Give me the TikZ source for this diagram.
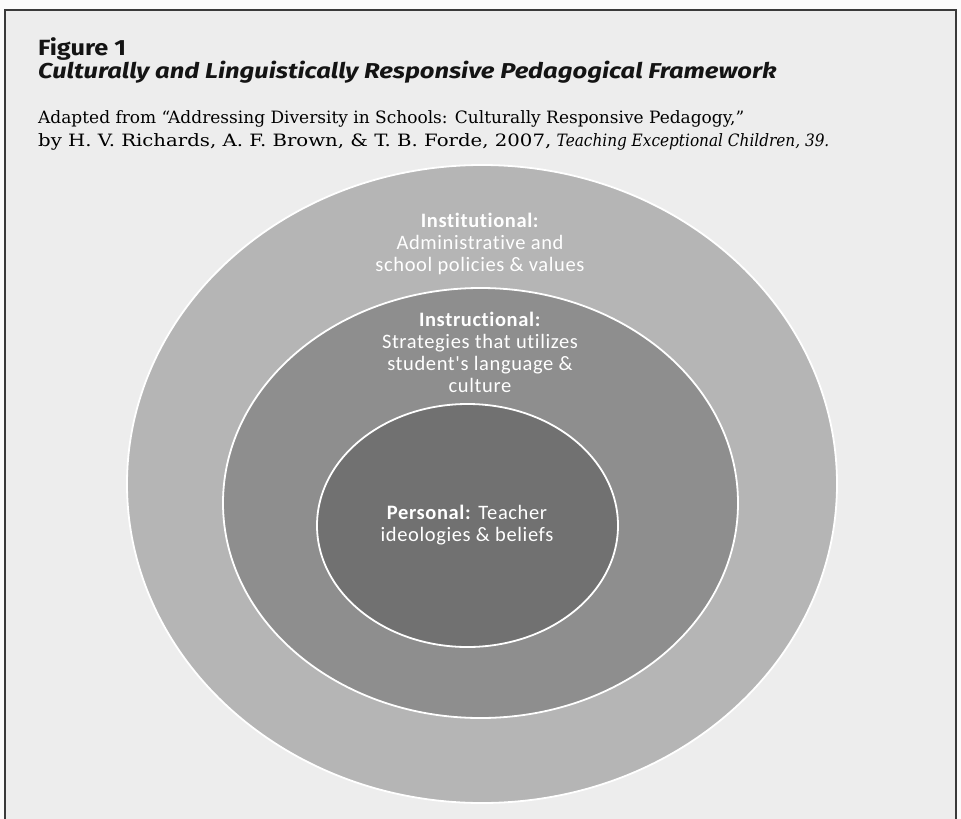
\documentclass[tikz,border=0pt]{standalone}
\usepackage{fontspec}
\setmainfont{DejaVu Serif}
\newfontfamily\calib[LetterSpace=3,Ligatures=NoCommon]{Carlito}
\newfontfamily\headf{Fira Sans}
\usetikzlibrary{shapes.geometric}
\definecolor{pagebg}{HTML}{EDEDED}
\definecolor{boxline}{HTML}{3A3A3A}
\definecolor{ringA}{HTML}{B5B5B5}
\definecolor{ringB}{HTML}{8E8E8E}
\definecolor{ringC}{HTML}{717171}
\tikzset{
  ring/.style={ellipse, draw=white, line width=1.8pt, inner sep=0pt},
  ringtext/.style={text=white, align=center, font=\calib\fontsize{20.5}{22}\selectfont, inner sep=0pt},
  citetext/.style={anchor=base west, inner sep=0pt, font=\fontsize{17}{20}\selectfont, text=black},
  headtext/.style={anchor=base west, inner sep=0pt, text=black!92},
}
\begin{document}
\begin{tikzpicture}[x=1pt,y=-1pt]
\useasboundingbox (0,0) rectangle (961,819);
\fill[white!97!gray] (0,0) rectangle (961,819);
\fill[pagebg] (5,10) rectangle (956,830);
\draw[boxline, line width=2pt] (5,830) -- (5,10) -- (956,10) -- (956,830);

\node[headtext, font=\headf\bfseries\fontsize{22}{24}\selectfont] (fig) at (38,55) {\scalebox{1.15}[1]{Figure 1}};
\node[headtext, font=\headf\bfseries\itshape\fontsize{21.5}{24}\selectfont] (title) at (38,78) {\scalebox{1.19}[1]{Culturally and Linguistically Responsive Pedagogical Framework}};
\node[citetext] (cite1) at (38,123) {Adapted from “Addressing Diversity in Schools: Culturally Responsive Pedagogy,”};
\node[citetext] (cite2) at (38,146) {\scalebox{1.16}[1]{by H. V. Richards, A. F. Brown, \& T. B. Forde, 2007,} \scalebox{0.9}[1]{\textit{Teaching Exceptional Children, 39.}}};

\node[ring, fill=ringA, minimum width=710pt, minimum height=638pt] (outer) at (482,484) {};
\node[ring, fill=ringB, minimum width=515pt, minimum height=430pt] (middle) at (480.5,503) {};
\node[ring, fill=ringC, minimum width=301pt, minimum height=243pt] (inner) at (467.5,525.5) {};

\node[ringtext] (inst) at (480,244) {\textbf{Institutional:}\\Administrative and\\school policies \& values};
\node[ringtext] (instr) at (480,352) {\textbf{Instructional:}\\Strategies that utilizes\\student's language \&\\culture};
\node[ringtext] (pers) at (467,525) {\textbf{Personal:} Teacher\\ideologies \& beliefs};
\end{tikzpicture}
\end{document}
